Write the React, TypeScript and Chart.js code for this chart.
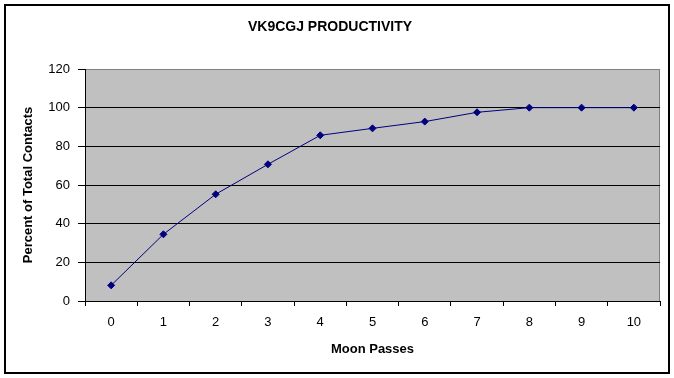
import React, { useEffect, useRef } from "react";
import { Chart, registerables } from "chart.js";

Chart.register(...registerables);

const passes = ["0", "1", "2", "3", "4", "5", "6", "7", "8", "9", "10"];
const percentContacts = [8.1, 34.5, 55.2, 70.7, 85.7, 89.3, 92.8, 97.6, 100, 100, 100];
const chartTitle = "VK9CGJ PRODUCTIVITY";
const xTitle = "Moon Passes";
const yTitle = "Percent of Total Contacts";

const FONT = "'Liberation Sans', Arial, sans-serif";

const framePlugin = {
  id: "frame",
  beforeDraw(chart: any) {
    const { ctx, chartArea, width, height } = chart;
    ctx.save();
    ctx.fillStyle = "#ffffff";
    ctx.fillRect(0, 0, width, height);
    ctx.fillStyle = "#c0c0c0";
    ctx.fillRect(chartArea.left, chartArea.top, chartArea.right - chartArea.left, chartArea.bottom - chartArea.top);
    ctx.strokeStyle = "#808080";
    ctx.lineWidth = 1;
    ctx.beginPath();
    ctx.moveTo(chartArea.right - 0.5, chartArea.top);
    ctx.lineTo(chartArea.right - 0.5, chartArea.bottom);
    ctx.stroke();
    ctx.restore();
  },
  afterDraw(chart: any) {
    const { ctx } = chart;
    ctx.save();
    ctx.strokeStyle = "#000000";
    ctx.lineWidth = 2;
    ctx.strokeRect(5, 5, 664, 368);
    ctx.restore();
  },
};

export default function App() {
  const ref = useRef<HTMLCanvasElement>(null);

  useEffect(() => {
    if (!ref.current) return;
    const chart = new Chart(ref.current, {
      type: "line",
      data: {
        labels: passes,
        datasets: [
          {
            data: percentContacts,
            borderColor: "#000080",
            backgroundColor: "#000080",
            borderWidth: 1,
            pointStyle: "rectRot",
            pointRadius: 3.5,
            pointBorderWidth: 1,
            tension: 0,
          },
        ],
      },
      plugins: [framePlugin],
      options: {
        responsive: false,
        animation: false,
        layout: { padding: { left: 0, right: 14, top: 0, bottom: 0 } },
        plugins: {
          legend: { display: false },
          tooltip: { enabled: false },
          title: {
            display: true,
            text: chartTitle,
            color: "#000000",
            font: { family: FONT, size: 14, weight: "bold" },
            padding: { top: 18.6, bottom: 33.6 },
          },
        },
        scales: {
          x: {
            type: "category",
            offset: true,
            grid: {
              offset: true,
              drawOnChartArea: false,
              drawTicks: true,
              tickLength: 5,
              color: "#000000",
              tickColor: "#000000",
            },
            border: { display: true, color: "#000000", width: 1 },
            ticks: {
              color: "#000000",
              font: { family: FONT, size: 13 },
              padding: 9,
              maxRotation: 0,
              autoSkip: false,
            },
            title: {
              display: true,
              text: xTitle,
              color: "#000000",
              font: { family: FONT, size: 13, weight: "bold" },
              padding: { top: 4, bottom: 21 },
            },
            afterFit(scale: any) {
              scale.height = 77;
            },
          },
          y: {
            min: 0,
            max: 120,
            grid: {
              drawOnChartArea: true,
              drawTicks: true,
              tickLength: 7,
              color: (c: any) => (c.tick && c.tick.value === 120 ? "#808080" : "#000000"),
              tickColor: "#000000",
            },
            border: { display: true, color: "#000000", width: 1 },
            ticks: {
              stepSize: 20,
              color: "#000000",
              font: { family: FONT, size: 13 },
              padding: 8,
            },
            title: {
              display: true,
              text: yTitle,
              color: "#000000",
              font: { family: FONT, size: 13, weight: "bold" },
              padding: { top: 20.7, bottom: 4 },
            },
            afterFit(scale: any) {
              scale.width = 85;
            },
          },
        },
      },
    });
    return () => chart.destroy();
  }, []);

  return (
    <div style={{ position: "absolute", left: 0, top: 0, width: 674, height: 378, background: "#ffffff" }}>
      <canvas ref={ref} width={674} height={378} style={{ display: "block" }} />
    </div>
  );
}
